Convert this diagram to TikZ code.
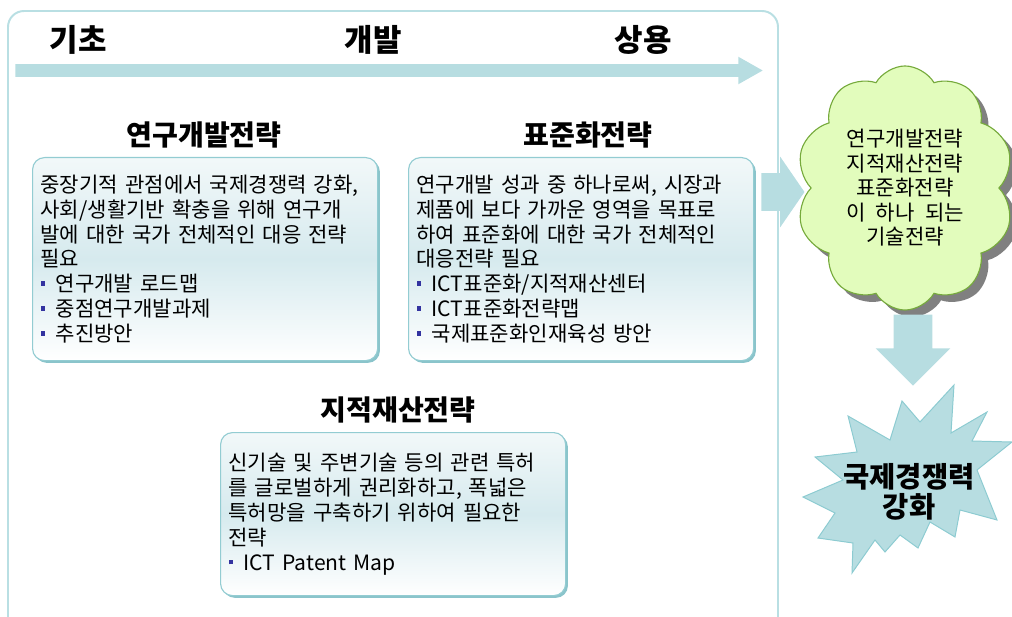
\documentclass[tikz,border=0pt]{standalone}
\usepackage{fontspec}
\setmainfont[WordSpace=2.2]{Noto Sans CJK KR}
\usepackage{tikz}
\usetikzlibrary{positioning,shapes.symbols,shapes.arrows,shadows}

\definecolor{frameline}{RGB}{185,223,227}
\definecolor{tealfill}{RGB}{183,221,225}
\definecolor{boxline}{RGB}{147,204,210}
\definecolor{boxshade}{RGB}{138,196,203}
\definecolor{boxtop}{RGB}{242,248,249}
\definecolor{boxmid}{RGB}{214,234,238}
\definecolor{cloudfill}{RGB}{226,252,188}
\definecolor{cloudline}{RGB}{118,170,60}
\definecolor{burstline}{RGB}{140,203,209}
\definecolor{bulletblue}{RGB}{51,51,160}

\newcommand{\sqbullet}{\raisebox{0.28em}{\textcolor{bulletblue}{\rule{0.22em}{0.22em}}}\hspace{0.5em}}

\tikzset{
  stagelabel/.style={font=\fontsize{22}{26}\selectfont\bfseries},
  strattitle/.style={font=\fontsize{20}{24}\selectfont\bfseries},
  stratbox/.style={draw=boxline, line width=0.8pt, rounded corners=0.3cm,
    top color=boxtop, bottom color=white, middle color=boxmid,
    drop shadow={shadow xshift=1.6pt, shadow yshift=-1.6pt, fill=boxshade, opacity=1},
    anchor=north west, minimum width=8.625cm, inner xsep=0.2cm,
    text width=8.225cm, align=left, font=\fontsize{15}{17.7}\selectfont},
  blockarrow/.style={single arrow, fill=tealfill, single arrow head indent=0pt},
}

\begin{document}
\begin{tikzpicture}[x=0.025cm,y=-0.025cm]
\useasboundingbox (0,0) rectangle (1012,617);

% frame and time line
\draw[frameline, line width=1.4pt, rounded corners=0.4cm] (8,11) rectangle (778,640);
\node[blockarrow, inner xsep=0pt, inner ysep=0.15cm, minimum height=18.675cm, minimum width=0.675cm,
  single arrow head extend=0.1875cm, single arrow tip angle=59] (timeline) at (383.5,70.5) {};
\node[stagelabel] (basic) at (78,40) {기초};
\node[stagelabel] (devel) at (373,40) {개발};
\node[stagelabel] (market) at (643,40) {상용};

% the three strategies
\node[strattitle] (rdtitle) at (204,135) {연구개발전략};
\node[stratbox, minimum height=5.075cm] (rd) at (32,157) {중장기적 관점에서 국제경쟁력 강화,\\
사회/생활기반 확충을 위해 연구개\\
발에 대한 국가 전체적인 대응 전략\\
필요\\
\sqbullet 연구개발 로드맵\\
\sqbullet 중점연구개발과제\\
\sqbullet 추진방안};

\node[strattitle] (stdtitle) at (588,135) {표준화전략};
\node[stratbox, minimum height=5.075cm] (std) at (408,157) {연구개발 성과 중 하나로써, 시장과\\
제품에 보다 가까운 영역을 목표로\\
하여 표준화에 대한 국가 전체적인\\
대응전략 필요\\
\sqbullet ICT표준화/지적재산센터\\
\sqbullet ICT표준화전략맵\\
\sqbullet 국제표준화인재육성 방안};

\node[strattitle] (iptitle) at (398,410) {지적재산전략};
\node[stratbox, minimum height=4.075cm] (ip) at (220,432) {신기술 및 주변기술 등의 관련 특허\\
를 글로벌하게 권리화하고, 폭넓은\\
특허망을 구축하기 위하여 필요한\\
전략\\
\sqbullet ICT Patent Map};

% result
\node[blockarrow, inner xsep=0pt, inner ysep=0.4625cm, minimum height=1.075cm, minimum width=1.75cm,
  single arrow head extend=0.4125cm, single arrow tip angle=111] (toUnified) at (776.5,192) {};
\node[cloud, cloud puffs=10, cloud puff arc=120, cloud ignores aspect,
  draw=cloudline, fill=cloudfill, line width=0.8pt,
  minimum width=5.45cm, minimum height=6.1cm, inner sep=0pt, align=center,
  font=\fontsize{15}{17.4}\selectfont,
  drop shadow={shadow xshift=5pt, shadow yshift=-5pt, fill=black!50, opacity=1}]
  (unified) at (905,188) {연구개발전략\\지적재산전략\\표준화전략\\이 하나 되는\\기술전략};
\node[blockarrow, shape border rotate=270, inner sep=0.475cm, minimum height=1.775cm, minimum width=1.85cm,
  single arrow head extend=0.45cm] (toGoal) at (913,340.5) {};

\draw[burstline, fill=tealfill, line width=0.7pt] (954,385) -- (951,433) -- (987,412) -- (972,441)
  -- (1012,442) -- (977,470) -- (997,520) -- (960,510) -- (955,537) -- (930,522) -- (918,548)
  -- (900,535) -- (885,552) -- (875,540) -- (852,573) -- (853,543) -- (818,538) -- (835,513)
  -- (803,497) -- (843,480) -- (815,457) -- (857,452) -- (848,416) -- (890,440) -- (902,401)
  -- (920,422) -- cycle;
\node[font=\fontsize{20.3}{21.3}\selectfont\bfseries, align=center] (goal) at (909,492) {국제경쟁력\\강화};
\end{tikzpicture}
\end{document}
